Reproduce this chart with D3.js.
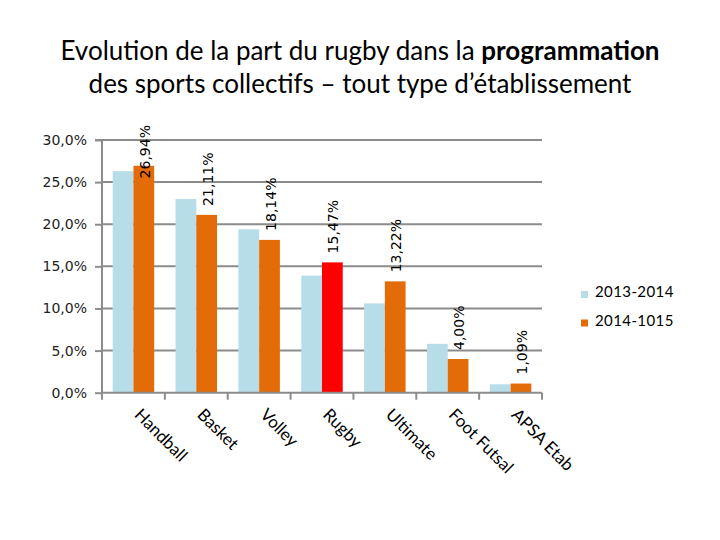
<!DOCTYPE html>
<html><head><meta charset="utf-8">
<script src="https://cdn.jsdelivr.net/npm/d3@7"></script>
<style>body{margin:0;background:#fff}</style>
</head><body>
<svg id="c" width="720" height="540"></svg>
<script>
const categories = ["Handball","Basket","Volley","Rugby","Ultimate","Foot Futsal","APSA Etab"];
const series = ["2013-2014","2014-1015"];
const values2013 = [0.263, 0.230, 0.194, 0.139, 0.106, 0.058, 0.010];
const values2014 = [0.2694, 0.2111, 0.1814, 0.1547, 0.1322, 0.0400, 0.0109];
const labels2014 = ["26,94%","21,11%","18,14%","15,47%","13,22%","4,00%","1,09%"];
const yTicks = [0,0.05,0.10,0.15,0.20,0.25,0.30];
const yTickLabels = ["0,0%","5,0%","10,0%","15,0%","20,0%","25,0%","30,0%"];

const svg = d3.select("#c");
const L = 102, R = 542, T = 140, B = 392.7;
const colBlue = "#b7dde8", colOrange = "#e36c09", colRed = "#ff0000";
const grid = "#8c8c8c";

const x0 = d3.scaleBand().domain(categories).range([L, R]).padding(0);
const bw = x0.bandwidth();
const x1 = d3.scaleBand().domain(series).range([bw*0.17, bw*0.83]).padding(0);
const y = d3.scaleLinear().domain([0, 0.30]).range([B, T]);

// title
const tf = "Lato, 'Open Sans', sans-serif";
const title = svg.append("text").attr("x", 360).attr("y", 60).attr("text-anchor","middle")
  .style("font-family",tf).style("font-size","26px").attr("fill","#000");
title.append("tspan").text("Evolution de la part du rugby dans la ");
title.append("tspan").style("font-weight","bold").text("programmation");
svg.append("text").attr("x", 360).attr("y", 93).attr("text-anchor","middle")
  .style("font-family",tf).style("font-size","26px").attr("fill","#000")
  .text("des sports collectifs \u2013 tout type d\u2019\u00e9tablissement");

// gridlines
svg.append("g").selectAll("line").data(yTicks.slice(1)).join("line")
  .attr("x1", L).attr("x2", R).attr("y1", d=>y(d)).attr("y2", d=>y(d))
  .attr("stroke",grid).attr("stroke-width",2);

// y axis
const yAxis = d3.axisLeft(y).tickValues(yTicks).tickSize(7).tickPadding(8)
  .tickFormat((d,i)=>yTickLabels[i]);
const gy = svg.append("g").attr("transform",`translate(${L},0)`).call(yAxis);
gy.select(".domain").attr("stroke",grid).attr("stroke-width",2).attr("d",`M-7,${T}H0V${B}`);
gy.selectAll(".tick line").attr("stroke",grid).attr("stroke-width",2);
gy.selectAll(".tick text").style("font-family","'DejaVu Sans', sans-serif").style("font-size","14px").attr("fill","#222");

// bars
const data = categories.map((c,i)=>({c, i, v:[values2013[i], values2014[i]]}));
const groups = svg.append("g").selectAll("g").data(data).join("g")
  .attr("transform", d=>`translate(${x0(d.c)},0)`);
groups.selectAll("rect").data(d=>d.v.map((v,k)=>({v,k,c:d.c}))).join("rect")
  .attr("x", d=>x1(series[d.k])).attr("width", x1.bandwidth())
  .attr("y", d=>y(d.v)).attr("height", d=>B - y(d.v))
  .attr("fill", d=> d.k===0 ? colBlue : (d.c==="Rugby" ? colRed : colOrange));

// x axis
const xAxisG = svg.append("g");
xAxisG.append("line").attr("x1",L).attr("x2",R).attr("y1",B).attr("y2",B).attr("stroke",grid).attr("stroke-width",2);
const bounds = categories.map(c=>x0(c)).concat([R]);
xAxisG.selectAll("line.t").data(bounds).join("line").attr("class","t")
  .attr("x1",d=>d).attr("x2",d=>d).attr("y1",B).attr("y2",B+7).attr("stroke",grid).attr("stroke-width",2);
xAxisG.selectAll("text").data(categories).join("text")
  .attr("transform", c=>`translate(${x0(c)+bw*0.5},${B+23}) rotate(45)`)
  .style("font-family",tf).style("font-size","17px").attr("fill","#000")
  .text(c=>c);

// data labels
svg.append("g").selectAll("text").data(data).join("text")
  .style("font-family","'DejaVu Sans', sans-serif").style("font-size","14px").attr("fill","#000")
  .text(d=>labels2014[d.i])
  .each(function(d){
    const len = this.getComputedTextLength();
    const cx = x0(d.c) + x1(series[1]) + x1.bandwidth()/2 + 6;
    let yb = y(d.v[1]) - 9;
    if (yb - len < 125) yb = 125 + len;
    d3.select(this).attr("transform", `translate(${cx},${yb}) rotate(-90)`);
  });

// legend
const lg = svg.append("g").selectAll("g").data(series).join("g")
  .attr("transform",(d,i)=>`translate(581,${291 + i*28.5})`);
lg.append("rect").attr("x",0).attr("y",0).attr("width",7).attr("height",7)
  .attr("fill",(d,i)=> i===0 ? colBlue : colOrange);
lg.append("text").attr("x",14).attr("y",6).style("font-family",tf)
  .style("font-size","15px").style("letter-spacing","0.4px").attr("fill","#000").text(d=>d);
</script>
</body></html>
